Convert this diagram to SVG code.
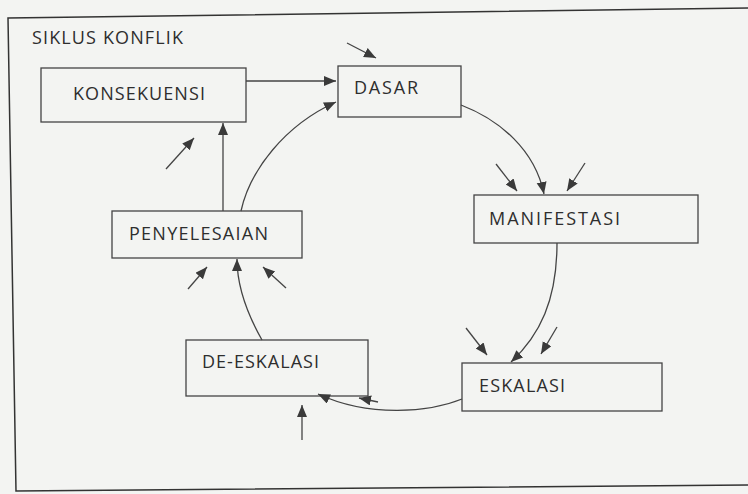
<svg xmlns="http://www.w3.org/2000/svg" width="748" height="494" viewBox="0 0 748 494">
<defs>
<style>
.box{fill:none;stroke:#444;stroke-width:1.3}
.lbl{font-family:"Open Sans","Liberation Sans",sans-serif;font-size:18px;fill:#2e2e2e}
.con{fill:none;stroke:#444;stroke-width:1.3}
</style>
<marker id="ah" markerUnits="userSpaceOnUse" markerWidth="13" markerHeight="11" refX="12" refY="5" orient="auto">
<path d="M0,0 L12,5 L0,10 z" fill="#3a3a3a"/>
</marker>
</defs>
<rect width="748" height="494" fill="#f3f4f2"/>
<polyline points="748,8 8,18 16,491 748,485" fill="none" stroke="#333" stroke-width="1.5"/>
<text class="lbl" x="32" y="44" textLength="151">SIKLUS KONFLIK</text>

<g id="konsekuensi">
<rect class="box" x="41" y="68" width="205" height="54"/>
<text class="lbl" x="73" y="100" textLength="132">KONSEKUENSI</text>
</g>
<g id="dasar">
<rect class="box" x="338" y="66" width="123" height="51"/>
<text class="lbl" x="354" y="94" textLength="64">DASAR</text>
</g>
<g id="manifestasi">
<rect class="box" x="474" y="195" width="224" height="48"/>
<text class="lbl" x="489" y="225" textLength="131">MANIFESTASI</text>
</g>
<g id="eskalasi">
<rect class="box" x="462" y="363" width="200" height="48"/>
<text class="lbl" x="479" y="392" textLength="86">ESKALASI</text>
</g>
<g id="de-eskalasi">
<rect class="box" x="186" y="340" width="182" height="56"/>
<text class="lbl" x="202" y="368" textLength="117">DE-ESKALASI</text>
</g>
<g id="penyelesaian">
<rect class="box" x="112" y="211" width="190" height="47"/>
<text class="lbl" x="129" y="240" textLength="139">PENYELESAIAN</text>
</g>

<g id="connectors">
<path class="con" d="M246,81 L336,81" marker-end="url(#ah)"/>
<path class="con" d="M461,105 C500,120 535,150 544,194" marker-end="url(#ah)"/>
<path class="con" d="M557,243 C557,300 540,335 511,362" marker-end="url(#ah)"/>
<path class="con" d="M462,399 C430,412 370,418 318,394" marker-end="url(#ah)"/>
<path class="con" d="M262,340 C245,310 237,285 237,259" marker-end="url(#ah)"/>
<path class="con" d="M223,211 L223,123" marker-end="url(#ah)"/>
<path class="con" d="M241,211 C250,170 285,125 336,102" marker-end="url(#ah)"/>
<path class="con" d="M347,43 L376,58" marker-end="url(#ah)"/>
<path class="con" d="M166,169 L194,138" marker-end="url(#ah)"/>
<path class="con" d="M496,164 L517,191" marker-end="url(#ah)"/>
<path class="con" d="M585,163 L567,191" marker-end="url(#ah)"/>
<path class="con" d="M466,328 L487,355" marker-end="url(#ah)"/>
<path class="con" d="M557,327 L541,354" marker-end="url(#ah)"/>
<path class="con" d="M188,289 L207,267" marker-end="url(#ah)"/>
<path class="con" d="M286,288 L263,267" marker-end="url(#ah)"/>
<path class="con" d="M378,402 L359,398" marker-end="url(#ah)"/>
<path class="con" d="M302,440 L302,405" marker-end="url(#ah)"/>
</g>
</svg>
